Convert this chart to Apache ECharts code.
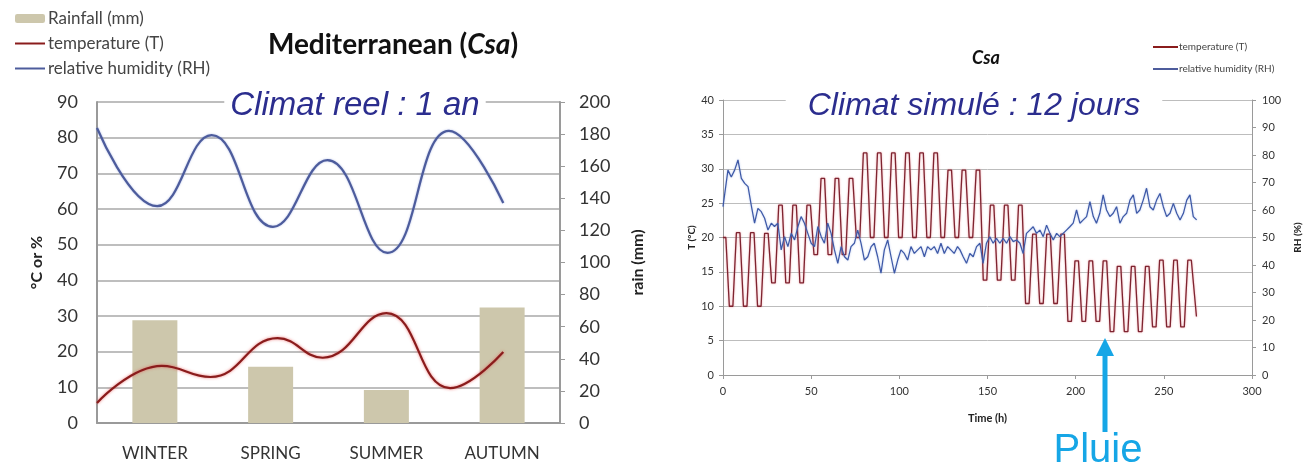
<!DOCTYPE html>
<html><head><meta charset="utf-8">
<script src="https://cdn.jsdelivr.net/npm/echarts@6/dist/echarts.min.js"></script>
<style>html,body{margin:0;padding:0;background:#fff}#c{width:1306px;height:472px}</style>
</head><body><div id="c"></div>
<script>
// ---------- left chart: real climate, one year ----------
const seasons = ['WINTER', 'SPRING', 'SUMMER', 'AUTUMN'];
const rainfall = [64, 35, 20.5, 72];
// position along the year (in season widths from the left edge), value
const yearHumidity = [[0, 82.7], [0.52, 60.8], [0.99, 80.7], [1.52, 55], [1.99, 73.7], [2.51, 47.7], [3.04, 81.9], [3.51, 61.7]];
const yearTemperature = [[0, 5.6], [0.56, 16], [0.98, 12.9], [1.56, 23.8], [1.95, 18.3], [2.5, 30.8], [3.05, 9.8], [3.51, 19.9]];

// ---------- right chart: simulated climate, 12 days ----------
// plateau temperatures of each 8-hour cycle (highs k=0..33, lows k=0..32)
const cycleHigh = [20, 20.7, 20.7, 20.6, 24.7, 24.7, 24.7, 28.6, 28.6, 28.6, 32.3, 32.3, 32.3, 32.3, 32.3, 32.3, 29.8, 29.8, 29.8, 24.7, 24.7, 24.7, 20.5, 20.5, 20.5, 16.6, 16.6, 16.6, 15.8, 15.8, 15.8, 16.7, 16.7, 16.7];
const cycleLow = [10, 10, 10, 13.4, 13.4, 13.4, 17.5, 17.5, 17.5, 20, 20, 20, 20, 20, 20, 20, 20, 20, 13.8, 13.8, 13.8, 10.4, 10.4, 10.4, 7.8, 7.8, 7.8, 6.3, 6.3, 6.3, 7, 7, 7];
const cycleHours = { period: 8, highStart: -0.4, highEnd: 1.6, lowStart: 3.6, lowEnd: 5.6 };
const tempEnd = [268.5, 8.5];
const simHumidity = [[0,61.2],[2.8,74.5],[4.7,72],[6.6,74.5],[8.5,78.2],[10.4,71.5],[12.3,69.7],[14.2,68.5],[16,61.8],[17.9,55.2],[19.8,60.6],[21.7,59.4],[23.6,57],[25.5,52.7],[27.4,55.2],[29.2,54],[31.1,55.2],[33,45.5],[34.9,50.3],[36.8,46.7],[38.7,51.5],[40.6,49.1],[42.5,54],[44.3,57.6],[46.2,55.2],[48.1,51.5],[50,47.9],[51.9,46.7],[53.8,54],[55.7,50.3],[57.5,47.9],[59.4,55.2],[61.3,51.5],[63.2,45.5],[65.1,40.6],[67,46.7],[68.9,43],[70.8,41.8],[72.6,46.7],[74.5,47.9],[76.4,52.7],[78.3,47.9],[80.2,41.8],[82.1,43],[84,46.7],[85.8,47.9],[87.7,43],[89.6,37],[91.5,45.5],[93.4,49.1],[95.3,43],[97.2,37],[99.1,41.8],[100.9,45.5],[102.8,44.2],[104.7,41.8],[106.6,46.7],[108.5,44.2],[110.4,45.5],[112.3,46.7],[114.2,43],[116,46.7],[117.9,45.5],[119.8,46.7],[121.7,44.2],[123.6,47.9],[125.5,44.2],[127.4,46.7],[129.2,45.5],[131.1,44.2],[133,46.7],[134.4,45.5],[136.2,43],[138.1,40.6],[140,44.2],[141.9,43],[143.8,46.7],[145.7,47.9],[147.5,40.6],[149.4,47.9],[151.3,50.3],[153.2,47.9],[155.1,49.7],[157,47.9],[158.9,49.7],[160.8,47.9],[162.7,50.3],[164.6,48.5],[166.5,49.1],[168.4,47.9],[170.2,44.2],[172.1,51.5],[174,52.7],[175.9,53.9],[177.8,51.5],[179.7,52.7],[181.6,50.3],[183.5,54.5],[185.4,51.5],[187.3,49.1],[189.2,51.5],[191,50.3],[192.9,51.5],[194.8,52.7],[196.7,53.9],[198.6,55.2],[200.5,60],[202.4,55.2],[204.3,56.4],[206.2,57.6],[208.1,63],[210,57.6],[211.8,55.2],[213.7,58.8],[215.6,65.5],[217.5,60],[219.4,57.6],[221.3,58.8],[223.2,61.2],[225.1,55.2],[227,57.6],[228.9,58.8],[230.8,63.6],[232.7,65.5],[234.6,58.8],[236.4,60],[238.3,63.6],[240.2,67.9],[242.1,61.2],[244,60],[245.9,63.6],[247.8,66],[249.7,61.2],[251.6,57.6],[253.5,58.8],[255.4,62.4],[257.3,58.8],[259.2,56.4],[261.1,58.8],[263,63.6],[264.8,65.5],[266.7,57.6],[268.6,56.4]];

// plateau vertices of the simulated temperature
const simTemperature = [];
for (let k = 0; k < cycleHigh.length; k++) {
  const t0 = cycleHours.period * k;
  simTemperature.push([Math.max(0, t0 + cycleHours.highStart), cycleHigh[k]]);
  simTemperature.push([t0 + cycleHours.highEnd, cycleHigh[k]]);
  if (k < cycleLow.length) {
    simTemperature.push([t0 + cycleHours.lowStart, cycleLow[k]]);
    simTemperature.push([t0 + cycleHours.lowEnd, cycleLow[k]]);
  }
}
simTemperature.push(tempEnd);

const FONT = 'Lato, "Open Sans", sans-serif';
const AX = '#9a9a9a';
const chart = echarts.init(document.getElementById('c'), null, { renderer: 'canvas' });
const noDot = { opacity: 0 };

chart.setOption({
  animation: false,
  backgroundColor: '#ffffff',
  textStyle: { fontFamily: FONT },
  grid: [
    { left: 97, top: 102, width: 463, height: 321 },
    { left: 723, top: 100, width: 529, height: 275 }
  ],
  legend: [
    {
      orient: 'vertical', left: 14, top: 10, padding: 0, itemGap: 8,
      itemWidth: 30, itemHeight: 9,
      data: ['Rainfall (mm)', { name: 'temperature (T)', itemStyle: noDot }, { name: 'relative humidity (RH)', itemStyle: noDot }],
      textStyle: { fontSize: 17, color: '#444', fontFamily: FONT, padding: [0, 0, 0, -2] }
    },
    {
      orient: 'vertical', left: 1152, top: 42, padding: 0, itemGap: 12,
      itemWidth: 25, itemHeight: 6,
      data: [{ name: 'temperature (T)', itemStyle: noDot }, { name: 'relative humidity (RH)', itemStyle: noDot }],
      textStyle: { fontSize: 10, color: '#444', fontFamily: FONT, padding: [0, 0, 0, -4] }
    }
  ],
  xAxis: [
    {
      type: 'category', gridIndex: 0, data: seasons,
      axisLine: { lineStyle: { color: AX, width: 2 } },
      axisTick: { show: false },
      axisLabel: { color: '#333', fontSize: 17, margin: 22, fontFamily: FONT }
    },
    { type: 'value', gridIndex: 0, min: 0, max: 4, show: false },
    {
      type: 'value', gridIndex: 1, min: 0, max: 300, interval: 50,
      axisLine: { show: true, lineStyle: { color: AX } },
      axisTick: { show: true, length: 4, lineStyle: { color: AX } },
      splitLine: { show: false },
      axisLabel: { color: '#333', fontSize: 11, margin: 11, fontFamily: FONT },
      name: 'Time (h)', nameLocation: 'middle', nameGap: 38,
      nameTextStyle: { fontWeight: 'bold', fontSize: 11, color: '#222', fontFamily: FONT }
    }
  ],
  yAxis: [
    {
      type: 'value', gridIndex: 0, min: 0, max: 90, interval: 10, position: 'left',
      axisLine: { show: true, lineStyle: { color: AX, width: 2 } },
      axisTick: { show: false },
      splitLine: { lineStyle: { color: '#a8a8a8', width: 1.6 } },
      axisLabel: { color: '#333', fontSize: 18, margin: 19, fontFamily: FONT },
      name: '°C or %', nameLocation: 'middle', nameGap: 52,
      nameTextStyle: { fontWeight: 'bold', fontSize: 16, color: '#222', fontFamily: FONT, padding: [0, 0, 0, 0] }
    },
    {
      type: 'value', gridIndex: 0, min: 0, max: 200, interval: 20, position: 'right',
      axisLine: { show: true, lineStyle: { color: AX, width: 2 } },
      axisTick: { show: true, length: 5, lineStyle: { color: AX } },
      splitLine: { show: false },
      axisLabel: { color: '#333', fontSize: 18, margin: 19, fontFamily: FONT },
      name: 'rain (mm)', nameLocation: 'middle', nameGap: 70,
      nameTextStyle: { fontWeight: 'bold', fontSize: 16, color: '#222', fontFamily: FONT }
    },
    {
      type: 'value', gridIndex: 1, min: 0, max: 40, interval: 5, position: 'left',
      axisLine: { show: true, lineStyle: { color: AX } },
      axisTick: { show: true, length: 4, lineStyle: { color: AX } },
      splitLine: { lineStyle: { color: '#bdbdbd', width: 1 } },
      axisLabel: { color: '#333', fontSize: 11, margin: 9, fontFamily: FONT },
      name: 'T (°C)', nameLocation: 'middle', nameGap: 26,
      nameTextStyle: { fontWeight: 'bold', fontSize: 10, color: '#222', fontFamily: FONT }
    },
    {
      type: 'value', gridIndex: 1, min: 0, max: 100, interval: 10, position: 'right',
      axisLine: { show: true, lineStyle: { color: AX } },
      axisTick: { show: true, length: 4, lineStyle: { color: AX } },
      splitLine: { show: false },
      axisLabel: { color: '#333', fontSize: 11, margin: 10, fontFamily: FONT },
      name: 'RH (%)', nameLocation: 'middle', nameGap: 41,
      nameTextStyle: { fontWeight: 'bold', fontSize: 10, color: '#222', fontFamily: FONT }
    }
  ],
  series: [
    {
      name: 'Rainfall (mm)', type: 'bar', xAxisIndex: 0, yAxisIndex: 1,
      data: rainfall, barWidth: 45, itemStyle: { color: '#cdc7ac' }
    },
    {
      name: 'temperature (T)', type: 'line', xAxisIndex: 1, yAxisIndex: 0,
      data: yearTemperature, smooth: 0.45, symbol: 'none',
      lineStyle: { color: '#8a1c1c', width: 2.2, shadowColor: 'rgba(230,70,70,0.7)', shadowBlur: 3 },
      itemStyle: { color: '#8a1c1c' }
    },
    {
      name: 'relative humidity (RH)', type: 'line', xAxisIndex: 1, yAxisIndex: 0,
      data: yearHumidity, smooth: 0.45, symbol: 'none',
      lineStyle: { color: '#4d5c9c', width: 2.2, shadowColor: 'rgba(120,140,210,0.6)', shadowBlur: 2 },
      itemStyle: { color: '#4d5c9c' }
    },
    {
      name: 'temperature (T)', type: 'line', xAxisIndex: 2, yAxisIndex: 2,
      data: simTemperature, symbol: 'none',
      lineStyle: { color: '#7e2430', width: 1.3, shadowColor: 'rgba(230,110,120,0.7)', shadowBlur: 2 },
      itemStyle: { color: '#7e2430' }
    },
    {
      name: 'relative humidity (RH)', type: 'line', xAxisIndex: 2, yAxisIndex: 3,
      data: simHumidity, symbol: 'none',
      lineStyle: { color: '#3d58a6', width: 1.2, shadowColor: 'rgba(120,150,220,0.6)', shadowBlur: 2 },
      itemStyle: { color: '#3d58a6' }
    }
  ],
  graphic: [
    {
      type: 'text', z: 100, x: 393, y: 45,
      style: {
        text: '{a|Mediterranean (}{b|Csa}{a|)}', align: 'center', verticalAlign: 'middle',
        rich: {
          a: { fontFamily: FONT, fontWeight: 'bold', fontSize: 28, fill: '#111' },
          b: { fontFamily: FONT, fontWeight: 'bold', fontStyle: 'italic', fontSize: 28, fill: '#111' }
        }
      }
    },
    {
      type: 'text', z: 100, x: 986, y: 58,
      style: { text: 'Csa', align: 'center', verticalAlign: 'middle', fontFamily: FONT, fontWeight: 'bold', fontStyle: 'italic', fontSize: 18, fill: '#111' }
    },
    {
      type: 'text', z: 100, x: 355, y: 106,
      style: { text: 'Climat reel : 1 an', align: 'center', verticalAlign: 'middle', fontFamily: '"Liberation Sans", Arial, sans-serif', fontStyle: 'italic', fontSize: 33, fill: '#2b2d8e', backgroundColor: '#ffffff', padding: [2, 6] }
    },
    {
      type: 'text', z: 100, x: 974, y: 106,
      style: { text: 'Climat simulé : 12 jours', align: 'center', verticalAlign: 'middle', fontFamily: '"Liberation Sans", Arial, sans-serif', fontStyle: 'italic', fontSize: 32, fill: '#2b2d8e', backgroundColor: '#ffffff', padding: [2, 22] }
    },
    {
      type: 'rect', z: 100, shape: { x: 1102.5, y: 352, width: 5, height: 80 },
      style: { fill: '#16a6e6' }
    },
    {
      type: 'polygon', z: 100, shape: { points: [[1096, 356], [1114, 356], [1105, 338]] },
      style: { fill: '#16a6e6' }
    },
    {
      type: 'text', z: 100, x: 1098, y: 451,
      style: { text: 'Pluie', align: 'center', verticalAlign: 'middle', fontFamily: '"Liberation Sans", Arial, sans-serif', fontSize: 40, fill: '#16a6e6' }
    }
  ]
});
</script>
</body></html>
